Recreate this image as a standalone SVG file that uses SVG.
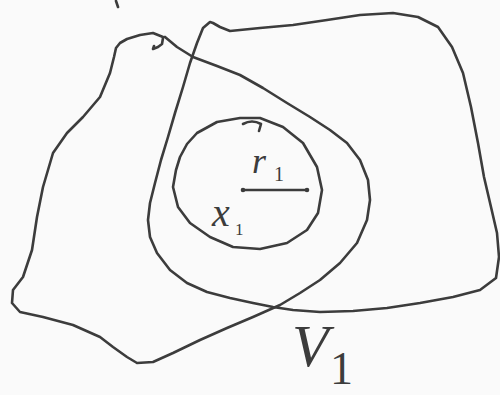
<svg xmlns="http://www.w3.org/2000/svg" width="500" height="395" viewBox="0 0 500 395">
<style>
.s{fill:none;stroke:#3c3c3c;stroke-width:2.6;stroke-linecap:round;stroke-linejoin:round}
.t{font-family:"Liberation Serif",serif;font-style:italic;fill:#3c3c3c}
.n{font-family:"Liberation Serif",serif;fill:#3c3c3c}
</style>
<rect width="500" height="395" fill="#fafafa"/>
<g id="regionA">
<path class="s" d="M163,37 L153,33 L140,35 L127,39 L120,43 L116,48 L114,57 L110,73 L100,97 L83,117 L67,133 L53,153 L43,187 L37,217 L32,250 L23,277 L13,290 L12,303 L20,312 L43,317 L73,325 L100,337 L113,347 L127,357 L137,363 L153,362 L173,353 L200,340 L227,328 L253,317 L280,305 L300,293 L320,280 L340,263 L357,243 L367,220 L370,200 L368,180 L360,160 L347,143 L330,130 L310,117 L287,103 L263,88 L240,75 L217,66 L193,57 L177,47 L165,37"/>
<path class="s" d="M163,38 L162,44 L158,47 L153,49 L154,46"/>
</g>
<g id="regionB">
<path class="s" d="M210,22 L203,28 L197,43 L190,63 L183,87 L175,113 L168,137 L161,160 L155,183 L150,203 L148,220 L150,237 L157,253 L170,270 L187,283 L207,292 L230,298 L253,303 L273,307 L293,310 L320,312 L353,311 L387,308 L420,303 L453,297 L480,290 L496,278 L499,257 L497,233 L491,207 L484,177 L478,143 L471,107 L463,73 L452,47 L438,27 L418,17 L393,13 L360,15 L327,20 L293,25 L260,28 L230,31 L220,27 L213,23 Z"/>
</g>
<g id="ball">
<path class="s" d="M173,187 L176,170 L180,157 L187,144 L197,133 L217,122 L240,118 L260,118 L283,127 L303,143 L317,167 L322,190 L318,213 L307,230 L287,243 L260,249 L233,247 L210,237 L190,223 L178,207 Z"/>
<path class="s" d="M243,124 Q252,119 261,124 L259,131" stroke-width="2"/>
</g>
<g id="radius">
<path class="s" d="M243,190 L307,190"/>
<circle cx="243" cy="190" r="2.3" fill="#3c3c3c"/>
<circle cx="307" cy="190" r="2.3" fill="#3c3c3c"/>
<text class="t" x="252" y="173" font-size="36">r</text>
<text class="n" x="274" y="181" font-size="20">1</text>
<text class="t" x="212" y="226" font-size="40">x</text>
<text class="n" x="235" y="235" font-size="17">1</text>
</g>
<g id="label-V1">
<text class="t" x="292" y="366" font-size="60">V</text>
<text class="n" x="330" y="384" font-size="46">1</text>
</g>
<path class="s" d="M116,1 L118,7" stroke-width="3"/>
</svg>
